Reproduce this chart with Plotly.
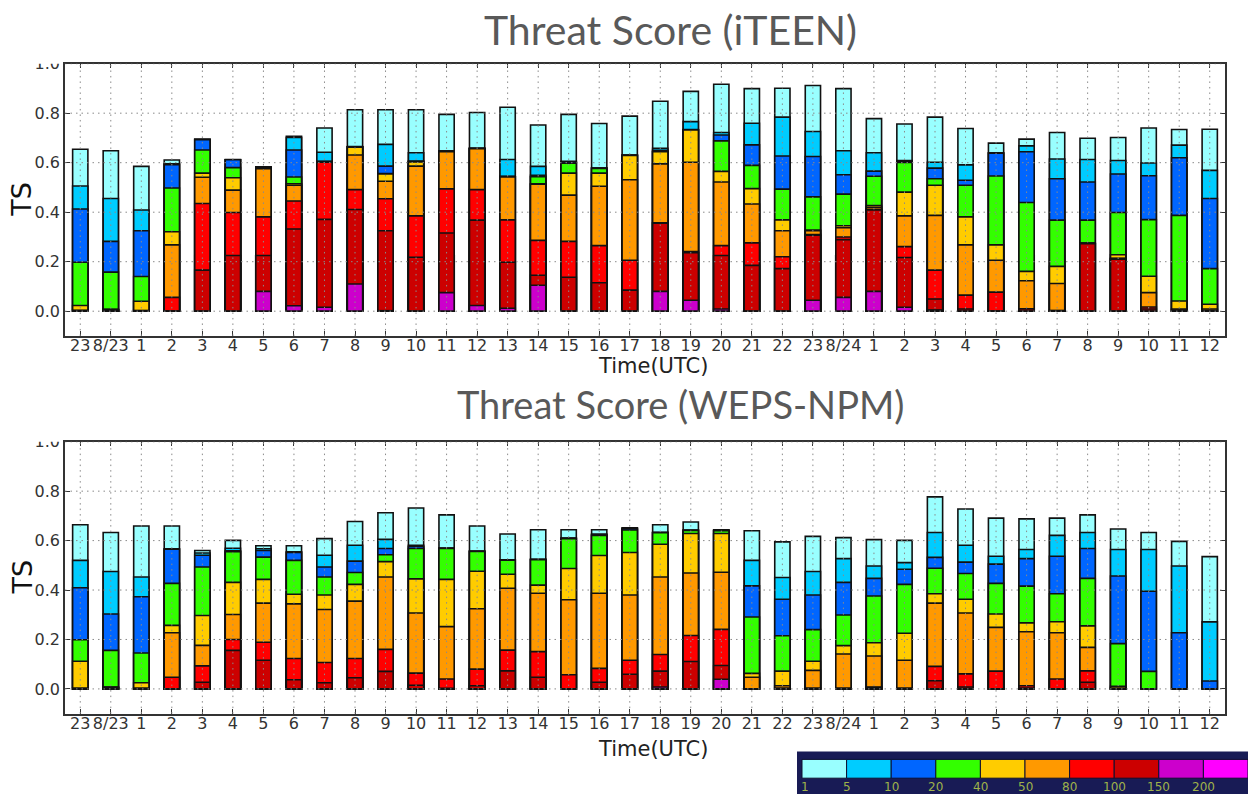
import plotly.graph_objects as go

W, H = 1248, 794

labels = ["23", "8/23"] + [str(i) for i in range(1, 24)] + ["8/24"] + [str(i) for i in range(1, 13)]
thresholds = ["1", "5", "10", "20", "40", "50", "80", "100", "150", "200"]
colors = ["#99ffff", "#00ccff", "#0066ff", "#33ff00", "#ffcc00",
          "#ff9900", "#ff0000", "#cc0000", "#cc00cc", "#ff00ff"]

# iTEEN: TS per time, for thresholds 1,5,10,20,40,50,80,100,150,200
iteen_ts = [
    [0.654, 0.506, 0.413, 0.198, 0.023, 0.004, 0, 0, 0, 0],
    [0.648, 0.455, 0.282, 0.158, 0.008, 0.007, 0.006, 0.005, 0.004, 0],
    [0.585, 0.409, 0.325, 0.140, 0.040, 0.003, 0, 0, 0, 0],
    [0.611, 0.595, 0.592, 0.498, 0.321, 0.268, 0.056, 0, 0, 0],
    [0.694, 0.694, 0.693, 0.651, 0.558, 0.541, 0.435, 0.166, 0, 0],
    [0.613, 0.612, 0.612, 0.580, 0.539, 0.489, 0.399, 0.225, 0, 0],
    [0.583, 0.582, 0.581, 0.580, 0.578, 0.576, 0.381, 0.225, 0.080, 0],
    [0.707, 0.702, 0.651, 0.542, 0.515, 0.509, 0.445, 0.332, 0.022, 0],
    [0.740, 0.642, 0.606, 0.605, 0.604, 0.603, 0.602, 0.371, 0.016, 0],
    [0.814, 0.665, 0.664, 0.664, 0.663, 0.631, 0.491, 0.411, 0.110, 0],
    [0.814, 0.674, 0.586, 0.556, 0.554, 0.525, 0.454, 0.325, 0.002, 0],
    [0.814, 0.640, 0.607, 0.605, 0.603, 0.586, 0.385, 0.218, 0, 0],
    [0.795, 0.647, 0.647, 0.646, 0.645, 0.644, 0.494, 0.316, 0.075, 0],
    [0.803, 0.658, 0.658, 0.657, 0.657, 0.656, 0.491, 0.368, 0.023, 0],
    [0.824, 0.613, 0.545, 0.544, 0.543, 0.542, 0.369, 0.198, 0.012, 0],
    [0.752, 0.585, 0.549, 0.543, 0.515, 0.513, 0.286, 0.145, 0.105, 0],
    [0.795, 0.606, 0.603, 0.598, 0.558, 0.469, 0.282, 0.137, 0, 0],
    [0.758, 0.578, 0.578, 0.577, 0.558, 0.505, 0.265, 0.115, 0, 0],
    [0.788, 0.631, 0.630, 0.630, 0.629, 0.531, 0.206, 0.085, 0, 0],
    [0.848, 0.658, 0.650, 0.646, 0.644, 0.595, 0.357, 0.356, 0.080, 0],
    [0.888, 0.766, 0.734, 0.733, 0.732, 0.602, 0.241, 0.236, 0.044, 0],
    [0.917, 0.722, 0.712, 0.688, 0.565, 0.522, 0.265, 0.225, 0.009, 0],
    [0.899, 0.759, 0.672, 0.589, 0.495, 0.433, 0.276, 0.185, 0, 0],
    [0.901, 0.784, 0.627, 0.493, 0.369, 0.325, 0.220, 0.172, 0, 0],
    [0.912, 0.726, 0.625, 0.462, 0.328, 0.325, 0.310, 0.307, 0.044, 0],
    [0.899, 0.648, 0.551, 0.473, 0.345, 0.337, 0.300, 0.289, 0.056, 0],
    [0.778, 0.640, 0.566, 0.545, 0.427, 0.420, 0.412, 0.409, 0.080, 0],
    [0.756, 0.609, 0.605, 0.601, 0.481, 0.385, 0.261, 0.217, 0.016, 0],
    [0.784, 0.602, 0.578, 0.535, 0.509, 0.387, 0.166, 0.049, 0.005, 0],
    [0.738, 0.591, 0.529, 0.509, 0.381, 0.268, 0.065, 0.009, 0, 0],
    [0.679, 0.640, 0.638, 0.546, 0.268, 0.206, 0.077, 0, 0, 0],
    [0.695, 0.668, 0.644, 0.439, 0.161, 0.123, 0.010, 0.009, 0, 0],
    [0.722, 0.615, 0.535, 0.368, 0.181, 0.112, 0.003, 0, 0, 0],
    [0.699, 0.613, 0.522, 0.368, 0.275, 0.274, 0.274, 0.273, 0, 0],
    [0.702, 0.609, 0.554, 0.399, 0.228, 0.214, 0.213, 0.210, 0, 0],
    [0.740, 0.599, 0.547, 0.370, 0.141, 0.075, 0.017, 0.009, 0, 0],
    [0.734, 0.671, 0.620, 0.387, 0.041, 0.009, 0.005, 0, 0, 0],
    [0.735, 0.569, 0.455, 0.172, 0.028, 0.009, 0.003, 0, 0, 0],
]

# WEPS-NPM
weps_ts = [
    [0.664, 0.520, 0.409, 0.199, 0.112, 0.003, 0, 0, 0, 0],
    [0.633, 0.475, 0.303, 0.156, 0.008, 0.006, 0.005, 0.004, 0, 0],
    [0.659, 0.453, 0.373, 0.145, 0.025, 0.003, 0, 0, 0, 0],
    [0.659, 0.567, 0.565, 0.427, 0.257, 0.227, 0.047, 0, 0, 0],
    [0.560, 0.550, 0.541, 0.493, 0.297, 0.176, 0.093, 0.027, 0, 0],
    [0.601, 0.569, 0.559, 0.555, 0.431, 0.301, 0.200, 0.156, 0, 0],
    [0.579, 0.567, 0.560, 0.533, 0.443, 0.347, 0.189, 0.116, 0, 0],
    [0.579, 0.555, 0.552, 0.520, 0.383, 0.344, 0.123, 0.037, 0, 0],
    [0.608, 0.541, 0.493, 0.453, 0.380, 0.321, 0.107, 0.025, 0, 0],
    [0.677, 0.581, 0.517, 0.471, 0.423, 0.355, 0.123, 0.045, 0, 0],
    [0.713, 0.605, 0.568, 0.543, 0.515, 0.453, 0.160, 0.071, 0, 0],
    [0.732, 0.581, 0.576, 0.568, 0.445, 0.307, 0.064, 0.015, 0, 0],
    [0.704, 0.570, 0.569, 0.568, 0.443, 0.252, 0.040, 0.002, 0, 0],
    [0.659, 0.558, 0.557, 0.556, 0.476, 0.324, 0.080, 0.013, 0, 0],
    [0.627, 0.522, 0.521, 0.521, 0.464, 0.407, 0.157, 0.073, 0, 0],
    [0.644, 0.524, 0.523, 0.523, 0.420, 0.387, 0.151, 0.047, 0, 0],
    [0.644, 0.610, 0.609, 0.608, 0.487, 0.361, 0.057, 0, 0, 0],
    [0.644, 0.627, 0.622, 0.621, 0.540, 0.387, 0.083, 0.027, 0, 0],
    [0.652, 0.650, 0.648, 0.643, 0.552, 0.380, 0.116, 0.059, 0, 0],
    [0.664, 0.634, 0.633, 0.632, 0.585, 0.453, 0.139, 0.072, 0.008, 0],
    [0.675, 0.643, 0.642, 0.641, 0.629, 0.469, 0.216, 0.111, 0, 0],
    [0.644, 0.642, 0.641, 0.640, 0.629, 0.472, 0.241, 0.095, 0.039, 0],
    [0.640, 0.520, 0.417, 0.291, 0.063, 0.047, 0, 0, 0, 0],
    [0.595, 0.451, 0.363, 0.215, 0.072, 0.013, 0.003, 0, 0, 0],
    [0.617, 0.475, 0.380, 0.240, 0.112, 0.075, 0.003, 0, 0, 0],
    [0.612, 0.527, 0.431, 0.299, 0.175, 0.141, 0.003, 0, 0, 0],
    [0.604, 0.497, 0.447, 0.376, 0.187, 0.133, 0.008, 0.005, 0, 0],
    [0.601, 0.511, 0.484, 0.423, 0.225, 0.116, 0.003, 0, 0, 0],
    [0.777, 0.633, 0.532, 0.488, 0.385, 0.347, 0.091, 0.033, 0, 0],
    [0.728, 0.581, 0.513, 0.467, 0.363, 0.307, 0.061, 0.008, 0, 0],
    [0.691, 0.537, 0.505, 0.427, 0.303, 0.249, 0.072, 0, 0, 0],
    [0.688, 0.564, 0.527, 0.416, 0.267, 0.231, 0.013, 0.003, 0, 0],
    [0.691, 0.621, 0.537, 0.385, 0.272, 0.227, 0.040, 0, 0, 0],
    [0.704, 0.633, 0.568, 0.447, 0.255, 0.168, 0.073, 0.027, 0, 0],
    [0.647, 0.564, 0.457, 0.183, 0.011, 0.003, 0, 0, 0, 0],
    [0.633, 0.564, 0.395, 0.071, 0, 0, 0, 0, 0, 0],
    [0.597, 0.497, 0.227, 0, 0, 0, 0, 0, 0, 0],
    [0.535, 0.271, 0.032, 0, 0, 0, 0, 0, 0, 0],
]

titles = ["Threat Score (iTEEN)", "Threat Score (WEPS-NPM)"]
x_title = "Time(UTC)"
y_title = "TS"
y_ticks = [0.0, 0.2, 0.4, 0.6, 0.8, 1.0]


def px_x(p):
    return p / W


def px_y(p):
    return (H - p) / H


fig = go.Figure()
xs = list(range(len(labels)))
for panel, data in enumerate([iteen_ts, weps_ts]):
    xa = "x" if panel == 0 else "x2"
    ya = "y" if panel == 0 else "y2"
    for k, thr in enumerate(thresholds):
        fig.add_trace(go.Bar(
            x=xs, y=[row[k] for row in data], width=0.5,
            marker=dict(color=colors[k], line=dict(color="#111111", width=1.6)),
            name=thr, showlegend=False, xaxis=xa, yaxis=ya,
        ))

# panel geometry (pixels)
plot_left, plot_right = 65, 1225
panel_px = [(55.3, 330.7), (437.7, 712.7)]
x_dom = [px_x(plot_left), px_x(plot_right)]
tickfont = dict(family="DejaVu Sans", size=16, color="#333333")
axis_common = dict(showline=True, linecolor="#333333", linewidth=1.5, mirror="ticks",
                   ticks="inside", ticklen=5, tickcolor="#333333", showgrid=False,
                   zeroline=False, tickfont=tickfont)

layout = dict(
    width=W, height=H, margin=dict(l=0, r=0, t=0, b=0),
    paper_bgcolor="white", plot_bgcolor="white", barmode="overlay",
    showlegend=False,
)
for panel in range(2):
    sx = "" if panel == 0 else "2"
    top, bot = panel_px[panel]
    layout["xaxis" + sx] = dict(
        domain=x_dom, anchor="y" + sx, range=[-0.5, len(labels) - 0.5],
        tickmode="array", tickvals=xs, ticktext=labels, ticklabelstandoff=-6,
        **axis_common,
    )
    layout["yaxis" + sx] = dict(
        domain=[px_y(bot), px_y(top)], anchor="x" + sx, range=[-0.1, 1.0],
        tickmode="array", tickvals=y_ticks, ticktext=[f"{v:.1f}" for v in y_ticks],
        **axis_common,
    )
fig.update_layout(**layout)

# dotted grid drawn above the bars
grid_line = dict(color="#8a8a8a", width=1, dash="1.5px,4px")
shapes = []
for panel in range(2):
    sx = "" if panel == 0 else "2"
    for xv in xs:
        shapes.append(dict(type="line", xref="x" + sx, yref="y" + sx + " domain",
                           x0=xv, x1=xv, y0=0, y1=1, layer="above", line=grid_line))
    for yv in y_ticks:
        shapes.append(dict(type="line", xref="x" + sx + " domain", yref="y" + sx,
                           x0=0, x1=1, y0=yv, y1=yv, layer="above", line=grid_line))
    # the source image clips the top of the "1.0" label
    top, bot = panel_px[panel]
    shapes.append(dict(type="rect", xref="paper", yref="paper",
                       x0=0, x1=px_x(plot_left - 2), y0=px_y(top), y1=px_y(top - 20),
                       fillcolor="white", line=dict(width=0), layer="above"))

# colour key (bottom right)
shapes.append(dict(type="rect", xref="paper", yref="paper",
                   x0=px_x(797), x1=1.0, y0=0.0, y1=px_y(751),
                   fillcolor="#181b55", line=dict(width=0), layer="above"))
cell_w = (1248 - 802) / len(colors)
annotations = []
for k, c in enumerate(colors):
    x0 = 802 + k * cell_w
    shapes.append(dict(type="rect", xref="paper", yref="paper",
                       x0=px_x(x0), x1=px_x(x0 + cell_w), y0=px_y(778), y1=px_y(759),
                       fillcolor=c, line=dict(color="#0e1030", width=1), layer="above"))
    annotations.append(dict(text=thresholds[k], xref="paper", yref="paper",
                            x=px_x(x0 + (3 if k == 0 else 0)), y=px_y(787),
                            showarrow=False, xanchor="center", yanchor="middle",
                            font=dict(family="DejaVu Sans", size=12, color="#9fb24a")))

# titles
annotations.append(dict(text=titles[0], xref="paper", yref="paper", x=px_x(670), y=px_y(21),
                        showarrow=False, xanchor="center", yanchor="middle",
                        font=dict(family="Lato", size=41, color="#595959")))
annotations.append(dict(text=titles[1], xref="paper", yref="paper", x=px_x(681), y=px_y(400),
                        showarrow=False, xanchor="center", yanchor="middle",
                        font=dict(family="Lato", size=38, color="#595959")))
# axis titles
for yc in (361, 748):
    annotations.append(dict(text=x_title, xref="paper", yref="paper", x=px_x(653), y=px_y(yc),
                            showarrow=False, xanchor="center", yanchor="middle",
                            font=dict(family="DejaVu Sans", size=21, color="#222222")))
for yc in (193, 575):
    annotations.append(dict(text=y_title, xref="paper", yref="paper", x=px_x(22), y=px_y(yc),
                            showarrow=False, xanchor="center", yanchor="middle", textangle=-90,
                            font=dict(family="DejaVu Sans", size=27, color="#111111")))

fig.update_layout(shapes=shapes, annotations=annotations)
fig.write_html("out.html")
